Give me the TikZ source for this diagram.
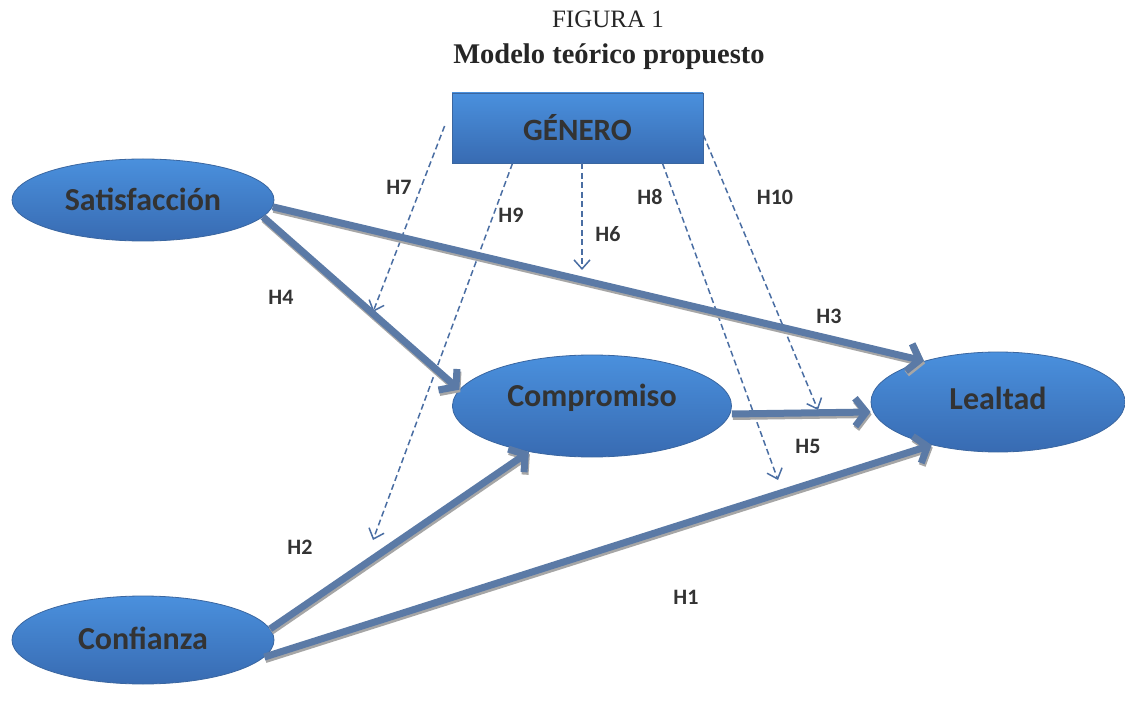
\documentclass[tikz,border=0pt]{standalone}
\usepackage{fontspec}
\setmainfont{Liberation Serif}
\newfontfamily\calfont{Carlito}
\usetikzlibrary{arrows.meta,shapes.geometric}
\definecolor{ellTop}{HTML}{4A90DD}
\definecolor{ellBot}{HTML}{386BB2}
\definecolor{ellEdge}{HTML}{3A66A0}
\definecolor{arrowC}{HTML}{5B7AA6}
\definecolor{dashC}{HTML}{4A6EA3}
\definecolor{txtC}{HTML}{333333}
\begin{document}
\begin{tikzpicture}[x=1pt,y=-1pt,
  ell/.style={ellipse, inner sep=0pt, top color=ellTop, bottom color=ellBot, draw=ellEdge, line width=0.8pt},
  lbl/.style={font=\calfont\bfseries\fontsize{32}{38}\selectfont, text=txtC, inner sep=0pt},
  hlbl/.style={font=\calfont\bfseries\fontsize{22}{26}\selectfont, text=txtC, inner sep=0pt},
  genbox/.style={rectangle, inner sep=0pt, minimum width=251pt, minimum height=70pt, top color=ellTop, bottom color=ellBot, draw=ellEdge, line width=0.8pt, font=\calfont\bfseries\fontsize{31}{36}\selectfont, text=txtC},
  thick arrow/.style={draw=arrowC, line width=7pt, -{Straight Barb[length=11pt,width=28pt]}},
  shadow arrow/.style={draw=black!35, line width=7pt, -{Straight Barb[length=11pt,width=28pt]}, transform canvas={shift={(1pt,-2.5pt)}}},
  dash arrow/.style={draw=dashC, line width=1.5pt, dash pattern=on 6pt off 3.5pt, -{Straight Barb[length=9pt,width=16pt]}}
]
\useasboundingbox (0,0) rectangle (1125,711);
\fill[white] (0,0) rectangle (1125,711);

% title
\node[font=\fontsize{25}{30}\selectfont, text=black!85] (t1) at (608,19) {FIGURA 1};
\node[font=\bfseries\fontsize{28.5}{33}\selectfont, text=black!85] (t2) at (609,57) {Modelo teórico propuesto};

% shapes
\node[genbox] (gen) at (577.5,128) {GÉNERO};
\node[ell, minimum width=262pt, minimum height=82pt] (sat) at (143,200) {};
\node[ell, minimum width=279pt, minimum height=102pt] (comp) at (592,406) {};
\node[ell, minimum width=254pt, minimum height=100pt] (leal) at (998,402) {};
\node[ell, minimum width=262pt, minimum height=88pt] (conf) at (143,640) {};

\node[lbl] (satT) at (143,199) {Satisfacción};
\node[lbl] (compT) at (592,398) {Compromiso};
\node[lbl] (lealT) at (998,398) {Lealtad};
\node[lbl] (confT) at (143,638) {Confianza};

% dashed end points
\coordinate (h7e) at (373,312);
\coordinate (h9e) at (373,540);
\coordinate (h6e) at (582,270);
\coordinate (h8e) at (778,480);
\coordinate (h10e) at (818,410);

% dashed moderation arrows
\draw[dash arrow] ([xshift=-7pt,yshift=2pt]gen.west) -- (h7e);
\draw[dash arrow] ([xshift=-65pt]gen.south) -- (h9e);
\draw[dash arrow] ([xshift=4.5pt]gen.south) -- (h6e);
\draw[dash arrow] ([xshift=85pt]gen.south) -- (h8e);
\draw[dash arrow] ([yshift=-7pt]gen.east) -- (h10e);

% thick arrows: shadows
\draw[shadow arrow] (sat.-3) -- (leal.151);
\draw[shadow arrow] (sat.-8) -- (comp.173);
\draw[shadow arrow] ([yshift=-8pt]comp.east) -- ([yshift=-10pt]leal.west);
\draw[shadow arrow] (conf.5) -- (comp.216);
\draw[shadow arrow] (conf.-8) -- (leal.213);
% thick arrows
\draw[thick arrow] (sat.-3) -- (leal.151);
\draw[thick arrow] (sat.-8) -- (comp.173);
\draw[thick arrow] ([yshift=-8pt]comp.east) -- ([yshift=-10pt]leal.west);
\draw[thick arrow] (conf.5) -- (comp.216);
\draw[thick arrow] (conf.-8) -- (leal.213);

% labels
\node[hlbl] (H7) at (399,187) {H7};
\node[hlbl] (H9) at (511,215) {H9};
\node[hlbl] (H6) at (608,234) {H6};
\node[hlbl] (H8) at (650,197) {H8};
\node[hlbl] (H10) at (775,197) {H10};
\node[hlbl] (H4) at (281,297) {H4};
\node[hlbl] (H3) at (829,316) {H3};
\node[hlbl] (H5) at (808,446) {H5};
\node[hlbl] (H2) at (300,547) {H2};
\node[hlbl] (H1) at (686,597) {H1};
\end{tikzpicture}
\end{document}
